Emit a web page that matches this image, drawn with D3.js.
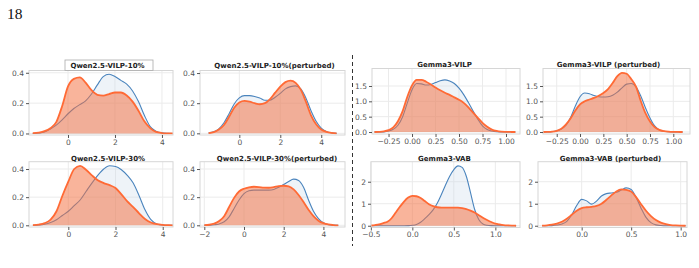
<!DOCTYPE html>
<html>
<head>
<meta charset="utf-8">
<script src="https://cdn.jsdelivr.net/npm/d3@7"></script>
<style>
  body { margin: 0; background: #fff; }
  svg { display: block; }
  .tick text { font-family: "DejaVu Sans", sans-serif; font-size: 7.5px; fill: #555; }
  .tick line { stroke: #555; }
  .title { font-family: "DejaVu Sans", sans-serif; font-size: 7px; font-weight: bold; fill: #222; }
</style>
</head>
<body>
<svg id="fig" width="699" height="268"></svg>
<script>
// ---- sample positions (density at these x) ----
var qwenX   = [-1.5,-1.25,-1,-0.75,-0.5,-0.25,0,0.25,0.5,0.75,1,1.25,1.5,1.75,2,2.25,2.5,2.75,3,3.25,3.5,3.75,4,4.25,4.5];
var qwenPX  = [-1.5,-1.25,-1,-0.75,-0.5,-0.25,0,0.25,0.5,0.75,1,1.25,1.5,1.75,2,2.25,2.5,2.75,3,3.25,3.5,3.75,4,4.25,4.5,4.75];
var qwen30PX = [-2,-1.75,-1.5,-1.25,-1,-0.75,-0.5,-0.25,0,0.25,0.5,0.75,1,1.25,1.5,1.75,2,2.25,2.5,2.75,3,3.25,3.5,3.75,4,4.25,4.5,4.75];
var vilpX   = [-0.4,-0.35,-0.3,-0.25,-0.2,-0.15,-0.1,-0.05,0,0.05,0.1,0.15,0.2,0.25,0.3,0.35,0.4,0.45,0.5,0.55,0.6,0.65,0.7,0.75,0.8,0.85,0.9,0.95,1,1.05,1.1];
var vabX    = [-0.5,-0.45,-0.4,-0.35,-0.3,-0.25,-0.2,-0.15,-0.1,-0.05,0,0.05,0.1,0.15,0.2,0.25,0.3,0.35,0.4,0.45,0.5,0.55,0.6,0.65,0.7,0.75,0.8,0.85,0.9,0.95,1,1.05,1.1,1.15,1.2,1.25];
var vabPX   = [-0.4,-0.35,-0.3,-0.25,-0.2,-0.15,-0.1,-0.05,0,0.05,0.1,0.15,0.2,0.25,0.3,0.35,0.4,0.45,0.5,0.55,0.6,0.65,0.7,0.75,0.8,0.85,0.9,0.95,1,1.05];

// ---- densities: blue = reference, orange = model ----
var q10Blue    = [0,0.003,0.01,0.03,0.055,0.09,0.13,0.165,0.19,0.215,0.26,0.32,0.375,0.39,0.375,0.35,0.325,0.28,0.21,0.12,0.045,0.015,0.004,0.001,0];
var q10Orange  = [0.002,0.006,0.015,0.035,0.075,0.18,0.31,0.36,0.37,0.335,0.285,0.255,0.25,0.26,0.27,0.27,0.25,0.21,0.15,0.08,0.035,0.01,0.003,0.001,0];
var q10pBlue   = [0.003,0.01,0.03,0.07,0.13,0.195,0.235,0.25,0.25,0.245,0.235,0.22,0.22,0.24,0.265,0.295,0.31,0.315,0.295,0.235,0.15,0.08,0.035,0.012,0.003,0];
var q10pOrange = [0.002,0.008,0.025,0.055,0.11,0.17,0.205,0.215,0.21,0.2,0.193,0.2,0.227,0.27,0.31,0.34,0.35,0.335,0.29,0.21,0.12,0.06,0.025,0.01,0.003,0];
var q30Blue    = [0,0.002,0.008,0.02,0.04,0.07,0.10,0.14,0.18,0.24,0.30,0.355,0.40,0.423,0.418,0.395,0.355,0.30,0.21,0.11,0.04,0.01,0.002,0,0];
var q30Orange  = [0.001,0.005,0.015,0.04,0.10,0.21,0.31,0.40,0.423,0.395,0.355,0.32,0.30,0.285,0.265,0.22,0.17,0.13,0.085,0.045,0.02,0.008,0.003,0.001,0];
var q30pBlue   = [0,0.001,0.004,0.01,0.025,0.06,0.12,0.18,0.225,0.245,0.25,0.25,0.25,0.25,0.255,0.27,0.29,0.312,0.328,0.318,0.27,0.18,0.10,0.048,0.018,0.005,0.001,0];
var q30pOrange = [0.001,0.004,0.012,0.03,0.065,0.13,0.195,0.24,0.26,0.27,0.274,0.272,0.268,0.267,0.272,0.279,0.281,0.276,0.255,0.215,0.165,0.11,0.065,0.033,0.015,0.006,0.002,0];
var vilpBlue   = [0,0,0.005,0.03,0.09,0.22,0.50,0.95,1.38,1.58,1.57,1.53,1.55,1.61,1.67,1.70,1.66,1.58,1.43,1.22,0.96,0.68,0.42,0.20,0.08,0.03,0.008,0.002,0,0,0];
var vilpOrange = [0,0.005,0.02,0.06,0.15,0.35,0.68,1.15,1.52,1.70,1.70,1.64,1.55,1.45,1.36,1.28,1.21,1.13,1.05,0.95,0.80,0.63,0.46,0.30,0.17,0.08,0.035,0.012,0.004,0.001,0];
var vilpPBlue  = [0,0.002,0.01,0.04,0.10,0.22,0.48,0.85,1.15,1.27,1.25,1.19,1.15,1.14,1.15,1.20,1.30,1.44,1.56,1.58,1.47,1.18,0.80,0.46,0.20,0.07,0.025,0.008,0.002,0,0];
var vilpPOrange= [0,0.003,0.012,0.04,0.11,0.25,0.45,0.70,0.90,1.00,1.06,1.11,1.18,1.27,1.40,1.60,1.82,1.93,1.90,1.72,1.48,1.02,0.62,0.34,0.16,0.07,0.03,0.012,0.004,0.001,0];
var vabBlue    = [0,0,0,0,0,0,0,0,0,0.005,0.02,0.06,0.16,0.32,0.50,0.72,1.02,1.42,1.85,2.25,2.55,2.72,2.65,2.25,1.52,0.75,0.28,0.08,0.02,0.003,0,0,0,0,0,0];
var vabOrange  = [0.01,0.03,0.06,0.12,0.18,0.34,0.60,0.86,1.10,1.28,1.36,1.34,1.26,1.12,0.98,0.89,0.84,0.82,0.82,0.82,0.82,0.82,0.80,0.76,0.69,0.60,0.48,0.36,0.26,0.17,0.10,0.06,0.03,0.015,0.006,0];
var vabPBlue   = [0,0,0.005,0.03,0.08,0.20,0.50,0.92,1.20,1.13,0.98,1.12,1.35,1.46,1.49,1.52,1.62,1.72,1.65,1.28,0.80,0.38,0.14,0.04,0.01,0,0,0,0,0];
var vabPOrange = [0.005,0.02,0.05,0.10,0.18,0.32,0.50,0.68,0.80,0.84,0.86,0.90,1.00,1.18,1.38,1.56,1.65,1.63,1.55,1.30,0.98,0.68,0.44,0.26,0.14,0.07,0.03,0.012,0.004,0];

// ---- ticks ----
var qwenXTicks = [0,2,4],               qwenXLabels = ["0","2","4"];
var qwen30PXTicks = [-2,0,2,4],         qwen30PXLabels = ["\u22122","0","2","4"];
var qwenYTicks = [0,0.2,0.4],           qwenYLabels = ["0.0","0.2","0.4"];
var vilpXTicks = [-0.25,0,0.25,0.5,0.75,1], vilpXLabels = ["\u22120.25","0.00","0.25","0.50","0.75","1.00"];
var vilpYTicks = [0,0.5,1,1.5],         vilpYLabels = ["0.0","0.5","1.0","1.5"];
var vabXTicks = [-0.5,0,0.5,1],         vabXLabels = ["\u22120.5","0.0","0.5","1.0"];
var vabPXTicks = [0,0.5,1],             vabPXLabels = ["0.0","0.5","1.0"];
var vabYTicks = [0,1,2],                vabYLabels = ["0","1","2"];

var titles = ["Qwen2.5-VILP-10%","Qwen2.5-VILP-10%(perturbed)","Gemma3-VILP","Gemma3-VILP (perturbed)",
              "Qwen2.5-VILP-30%","Qwen2.5-VILP-30%(perturbed)","Gemma3-VAB","Gemma3-VAB (perturbed)"];

// layout of each small axes box
var panels = [
  {xs: qwenX,   blue: q10Blue,   orange: q10Orange,   xt: qwenXTicks, xl: qwenXLabels, yt: qwenYTicks, yl: qwenYLabels,
   l: 29,  r: 173, t: 70.5,  b: 135, xd: [-1.66, 4.47],  yd: [-0.01, 0.415], tx: 107.5, ty: 68, box: true},
  {xs: qwenPX,  blue: q10pBlue,  orange: q10pOrange,  xt: qwenXTicks, xl: qwenXLabels, yt: qwenYTicks, yl: qwenYLabels,
   l: 200, r: 345, t: 70.5,  b: 135, xd: [-1.92, 5.16],  yd: [-0.011, 0.417], tx: 274.5, ty: 68},
  {xs: vilpX,   blue: vilpBlue,  orange: vilpOrange,  xt: vilpXTicks, xl: vilpXLabels, yt: vilpYTicks, yl: vilpYLabels,
   l: 372, r: 520, t: 68.5,  b: 134, xd: [-0.426, 1.149], yd: [-0.065, 2.07], tx: 444.5, ty: 67},
  {xs: vilpX,   blue: vilpPBlue, orange: vilpPOrange, xt: vilpXTicks, xl: vilpXLabels, yt: vilpYTicks, yl: vilpYLabels,
   l: 543, r: 690, t: 68.5,  b: 134, xd: [-0.397, 1.179], yd: [-0.065, 2.07], tx: 608.5, ty: 67},
  {xs: qwenX,   blue: q30Blue,   orange: q30Orange,   xt: qwenXTicks, xl: qwenXLabels, yt: qwenYTicks, yl: qwenYLabels,
   l: 29,  r: 173, t: 161.7, b: 227, xd: [-1.665, 4.436], yd: [-0.012, 0.452], tx: 108, ty: 160.5},
  {xs: qwen30PX, blue: q30pBlue, orange: q30pOrange,  xt: qwen30PXTicks, xl: qwen30PXLabels, yt: qwenYTicks, yl: qwenYLabels,
   l: 200, r: 345, t: 161.7, b: 227, xd: [-2.217, 5.088], yd: [-0.012, 0.452], tx: 277, ty: 160.5},
  {xs: vabX,    blue: vabBlue,   orange: vabOrange,   xt: vabXTicks, xl: vabXLabels, yt: vabYTicks, yl: vabYLabels,
   l: 371, r: 520, t: 161.7, b: 227.5, xd: [-0.498, 1.297], yd: [-0.08, 2.91], tx: 444.5, ty: 160.5},
  {xs: vabPX,   blue: vabPBlue,  orange: vabPOrange,  xt: vabPXTicks, xl: vabPXLabels, yt: vabYTicks, yl: vabYLabels,
   l: 538, r: 687, t: 161.7, b: 227.5, xd: [-0.441, 1.064], yd: [-0.08, 2.91], tx: 610.5, ty: 160.5}
];

var svg = d3.select("#fig");

// page number
svg.append("text").attr("x", 7).attr("y", 19)
  .style("font-family", "'Liberation Serif', serif").style("font-size", "15.5px").style("fill", "#111")
  .text("18");

panels.forEach(function (p, i) {
  var x = d3.scaleLinear().domain(p.xd).range([p.l, p.r]);
  var y = d3.scaleLinear().domain(p.yd).range([p.b, p.t]);
  var g = svg.append("g");

  g.append("clipPath").attr("id", "clip" + i)
    .append("rect").attr("x", p.l).attr("y", p.t).attr("width", p.r - p.l).attr("height", p.b - p.t);

  // grid
  g.selectAll(".gx").data(p.xt).enter().append("line")
    .attr("x1", d => x(d)).attr("x2", d => x(d)).attr("y1", p.t).attr("y2", p.b)
    .style("stroke", "#ebebeb");
  g.selectAll(".gy").data(p.yt).enter().append("line")
    .attr("y1", d => y(d)).attr("y2", d => y(d)).attr("x1", p.l).attr("x2", p.r)
    .style("stroke", "#ebebeb");

  var area = d3.area().x((d, j) => x(p.xs[j])).y0(y(0)).y1(d => y(d)).curve(d3.curveMonotoneX);
  var line = d3.line().x((d, j) => x(p.xs[j])).y(d => y(d)).curve(d3.curveMonotoneX);

  var plot = g.append("g").attr("clip-path", "url(#clip" + i + ")");
  plot.append("path").datum(p.blue).attr("d", area).style("fill", "#c6d7e8").style("fill-opacity", 0.3);
  plot.append("path").datum(p.blue).attr("d", line).style("fill", "none").style("stroke", "#4a84bd").style("stroke-width", 1.1);
  plot.append("path").datum(p.orange).attr("d", area).style("fill", "#f36f3f").style("fill-opacity", 0.52);
  plot.append("path").datum(p.orange).attr("d", line).style("fill", "none").style("stroke", "#ff6a35").style("stroke-width", 1.8);

  // frame
  g.append("rect").attr("x", p.l).attr("y", p.t).attr("width", p.r - p.l).attr("height", p.b - p.t)
    .style("fill", "none").style("stroke", "#d6d6d6");

  // axes
  var ax = g.append("g").attr("transform", "translate(0," + p.b + ")")
    .call(d3.axisBottom(x).tickValues(p.xt).tickFormat((d, j) => p.xl[j]).tickSize(3).tickPadding(1.5));
  ax.select(".domain").remove();
  var ay = g.append("g").attr("transform", "translate(" + p.l + ",0)")
    .call(d3.axisLeft(y).tickValues(p.yt).tickFormat((d, j) => p.yl[j]).tickSize(3).tickPadding(2));
  ay.select(".domain").remove();

  // title
  if (p.box) {
    g.append("rect").attr("x", 65).attr("y", 60).attr("width", 88).attr("height", 10.5)
      .style("fill", "#fff").style("stroke", "#aaa").style("stroke-width", 0.8);
  }
  g.append("text").attr("class", "title").attr("x", p.tx).attr("y", p.ty)
    .attr("text-anchor", "middle").text(titles[i]);
});

// dashed separator between the two figures
svg.append("line").attr("x1", 352.5).attr("x2", 352.5).attr("y1", 55).attr("y2", 246)
  .style("stroke", "#333").style("stroke-dasharray", "4,3").style("stroke-width", 1);
</script>
</body>
</html>
